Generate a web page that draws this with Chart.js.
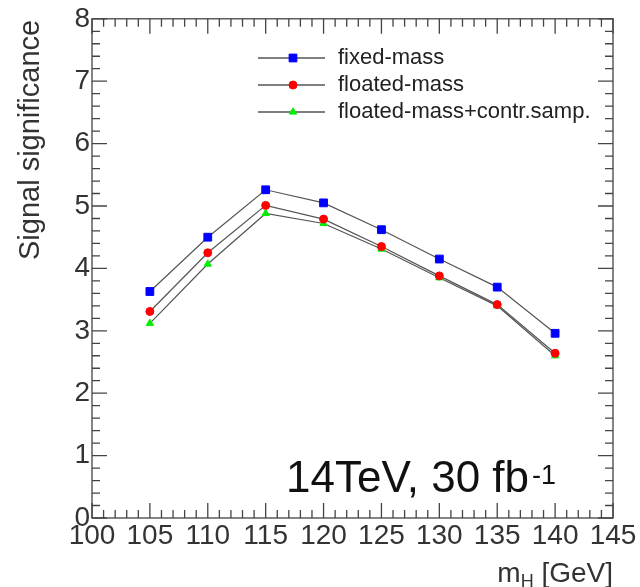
<!DOCTYPE html>
<html>
<head>
<meta charset="utf-8">
<script src="https://cdn.jsdelivr.net/npm/chart.js@4/dist/chart.umd.min.js"></script>
<style>
  body { margin: 0; background: #fff; }
  #c { display: block; }
</style>
</head>
<body>
<canvas id="c" width="640" height="587"></canvas>
<script>
const masses = [105, 110, 115, 120, 125, 130, 135, 140];
const fixedMass = [3.63, 4.50, 5.26, 5.05, 4.62, 4.15, 3.70, 2.96];
const floatedMass = [3.31, 4.25, 5.01, 4.79, 4.35, 3.88, 3.42, 2.64];
const floatedContr = [3.12, 4.07, 4.88, 4.72, 4.31, 3.85, 3.40, 2.60];
const seriesNames = ['fixed-mass', 'floated-mass', 'floated-mass+contr.samp.'];
const xTicks = [100, 105, 110, 115, 120, 125, 130, 135, 140, 145];
const yTicks = [0, 1, 2, 3, 4, 5, 6, 7, 8];

const font = "'Liberation Sans', Arial, sans-serif";
const axisColor = '#444';

function pts(vals) {
  return masses.map((m, i) => ({ x: m, y: vals[i] }));
}

function series(label, vals, color, style, radius) {
  return {
    label: label,
    data: pts(vals),
    borderColor: '#555',
    borderWidth: 1.2,
    pointStyle: style,
    pointRadius: radius,
    pointBackgroundColor: color,
    pointBorderColor: color,
    pointBorderWidth: 1,
    tension: 0,
  };
}

// frame, inward ticks, legend and free texts
const decor = {
  id: 'decor',
  afterDraw(chart) {
    const ctx = chart.ctx;
    const a = chart.chartArea;
    const xs = chart.scales.x;
    const ys = chart.scales.y;
    ctx.save();
    ctx.strokeStyle = axisColor;
    ctx.lineWidth = 1.3;
    ctx.strokeRect(a.left, a.top, a.right - a.left, a.bottom - a.top);

    ctx.beginPath();
    for (let v = 100; v <= 145; v++) {
      const px = xs.getPixelForValue(v);
      const len = v % 5 === 0 ? 15 : 8;
      ctx.moveTo(px, a.bottom);
      ctx.lineTo(px, a.bottom - len);
      ctx.moveTo(px, a.top);
      ctx.lineTo(px, a.top + len);
    }
    for (let k = 0; k <= 40; k++) {
      const py = ys.getPixelForValue(k * 0.2);
      const len = k % 5 === 0 ? 15 : 8;
      ctx.moveTo(a.left, py);
      ctx.lineTo(a.left + len, py);
      ctx.moveTo(a.right, py);
      ctx.lineTo(a.right - len, py);
    }
    ctx.stroke();

    // legend
    chart.data.datasets.forEach((ds, i) => {
      const y = 58 + i * 27;
      ctx.strokeStyle = '#555';
      ctx.lineWidth = 1.5;
      ctx.beginPath();
      ctx.moveTo(258, y);
      ctx.lineTo(325, y);
      ctx.stroke();
      ctx.fillStyle = ds.pointBackgroundColor;
      ctx.strokeStyle = ds.pointBorderColor;
      ctx.lineWidth = 1;
      Chart.helpers.drawPoint(ctx, { pointStyle: ds.pointStyle, radius: ds.pointRadius, rotation: 0, borderWidth: 1 }, 293, y);
      ctx.fillStyle = '#222';
      ctx.font = '22px ' + font;
      ctx.textAlign = 'left';
      ctx.textBaseline = 'middle';
      ctx.fillText(ds.label, 338, y);
    });

    // energy and luminosity
    ctx.fillStyle = '#111';
    ctx.textBaseline = 'alphabetic';
    ctx.textAlign = 'left';
    ctx.font = '44px ' + font;
    ctx.fillText('14TeV, 30 fb', 286, 492);
    const w = ctx.measureText('14TeV, 30 fb').width;
    ctx.font = '27px ' + font;
    ctx.fillText('-1', 286 + w + 3, 484);

    // x title
    ctx.fillStyle = '#333';
    ctx.font = '28px ' + font;
    ctx.textAlign = 'right';
    ctx.fillText('[GeV]', a.right, 582);
    const gw = ctx.measureText(' [GeV]').width;
    ctx.font = '18px ' + font;
    ctx.fillText('H', a.right - gw, 587);
    const hw = ctx.measureText('H').width;
    ctx.font = '28px ' + font;
    ctx.fillText('m', a.right - gw - hw, 582);

    // y title
    ctx.translate(39, a.top + 1);
    ctx.rotate(-Math.PI / 2);
    ctx.textAlign = 'right';
    ctx.font = '29px ' + font;
    ctx.fillText('Signal significance', 0, 0);
    ctx.restore();
  }
};

new Chart(document.getElementById('c'), {
  type: 'line',
  data: {
    datasets: [
      series(seriesNames[0], fixedMass, '#0000ff', 'rect', 5.5),
      series(seriesNames[1], floatedMass, '#ff0000', 'circle', 4),
      series(seriesNames[2], floatedContr, '#00ee00', 'triangle', 4.2),
    ],
  },
  options: {
    responsive: false,
    animation: false,
    layout: { padding: { top: 17, right: 27, left: 0, bottom: 0 } },
    plugins: {
      legend: { display: false },
      tooltip: { enabled: false },
    },
    scales: {
      x: {
        type: 'linear',
        min: 100,
        max: 145,
        afterBuildTicks: (s) => { s.ticks = xTicks.map((v) => ({ value: v })); },
        afterFit: (s) => { s.height = 69; },
        ticks: {
          color: '#333',
          font: { family: font, size: 28 },
          padding: 1,
          maxRotation: 0,
          autoSkip: false,
        },
        grid: { display: false, drawTicks: false },
        border: { display: false },
      },
      y: {
        min: 0,
        max: 8,
        afterBuildTicks: (s) => { s.ticks = yTicks.map((v) => ({ value: v })); },
        afterFit: (s) => { s.width = 92; },
        ticks: {
          color: '#333',
          font: { family: font, size: 28 },
          padding: 2,
        },
        grid: { display: false, drawTicks: false },
        border: { display: false },
      },
    },
  },
  plugins: [decor],
});
</script>
</body>
</html>
